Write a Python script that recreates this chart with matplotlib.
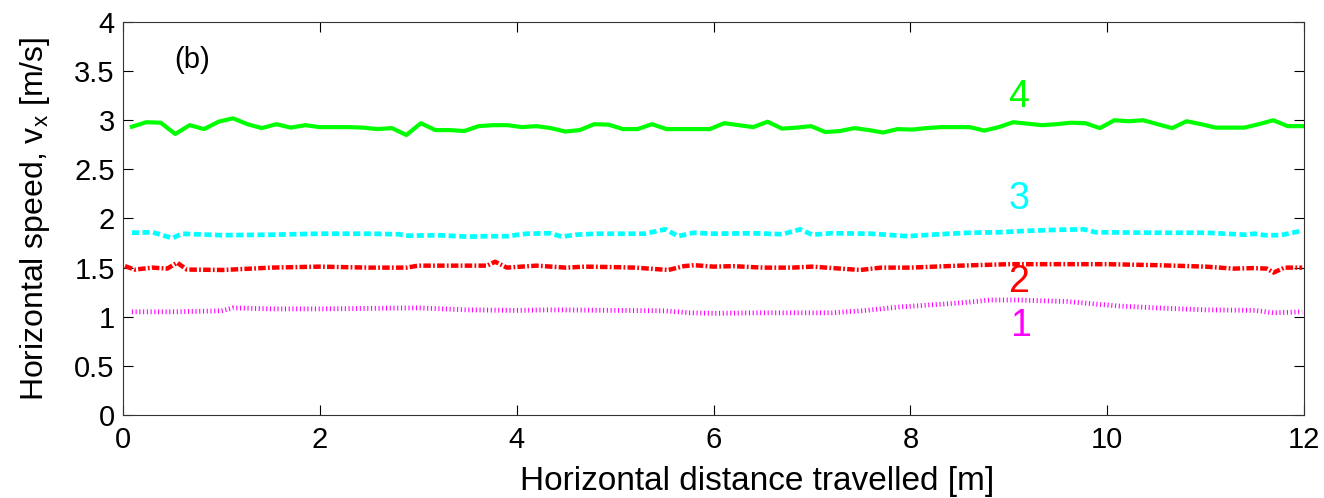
import numpy as np
import matplotlib
matplotlib.use("Agg")
import matplotlib.pyplot as plt

plt.rcParams['font.family'] = ['Liberation Sans', 'DejaVu Sans']
plt.rcParams['mathtext.default'] = 'regular'

# run 4 (green, solid)
v4 = [2.934, 2.98, 2.975, 2.86, 2.95, 2.91, 2.985, 3.02, 2.96, 2.92,
      2.96, 2.925, 2.95, 2.93, 2.93, 2.93, 2.925, 2.91, 2.92, 2.85,
      2.97, 2.90, 2.90, 2.89, 2.94, 2.95, 2.95, 2.93, 2.94, 2.92,
      2.885, 2.90, 2.96, 2.955, 2.91, 2.91, 2.96, 2.91, 2.91, 2.91,
      2.91, 2.97, 2.95, 2.93, 2.985, 2.915, 2.925, 2.94, 2.88, 2.89,
      2.92, 2.90, 2.875, 2.91, 2.905, 2.92, 2.93, 2.93, 2.93, 2.895,
      2.93, 2.98, 2.965, 2.95, 2.96, 2.975, 2.97, 2.92, 3.0, 2.99,
      3.0, 2.96, 2.92, 2.99, 2.96, 2.925, 2.925, 2.925, 2.96, 3.0,
      2.94, 2.94]
x4 = np.linspace(0.09, 11.98, len(v4))

# run 3 (cyan, dashed)
x3 = [0.09, 0.3, 0.5, 0.6, 1.0, 1.5, 2.0, 2.5, 2.8, 2.9, 3.2, 3.5, 3.7, 3.9,
      4.1, 4.34, 4.46, 4.6, 4.8, 5.0, 5.3, 5.51, 5.64, 5.8, 6.0, 6.4, 6.7,
      6.88, 7.0, 7.2, 7.6, 7.97, 8.3, 8.6, 8.9, 9.2, 9.5, 9.76, 9.88, 10.5,
      11.0, 11.4, 11.5, 11.6, 11.76, 11.98]
v3 = [1.855, 1.86, 1.80, 1.845, 1.83, 1.835, 1.845, 1.845, 1.84, 1.825,
      1.83, 1.815, 1.82, 1.82, 1.845, 1.85, 1.815, 1.835, 1.845, 1.845,
      1.845, 1.89, 1.82, 1.855, 1.845, 1.85, 1.84, 1.89, 1.835, 1.85,
      1.845, 1.82, 1.84, 1.855, 1.86, 1.875, 1.885, 1.89, 1.86, 1.855,
      1.855, 1.835, 1.845, 1.83, 1.83, 1.875]

# run 2 (red, dash-dot)
x2 = [0.02, 0.12, 0.3, 0.45, 0.55, 0.65, 1.02, 1.5, 2.0, 2.5, 2.88, 3.0,
      3.5, 3.7, 3.78, 3.9, 4.2, 4.5, 4.7, 5.0, 5.2, 5.54, 5.7, 5.8, 6.0,
      6.2, 6.5, 6.8, 7.0, 7.49, 7.7, 8.0, 8.5, 9.0, 9.5, 10.0, 10.5, 11.0,
      11.28, 11.48, 11.62, 11.69, 11.8, 11.98]
v2 = [1.515, 1.48, 1.50, 1.49, 1.55, 1.48, 1.476, 1.50, 1.51, 1.50, 1.50,
      1.52, 1.52, 1.52, 1.56, 1.50, 1.52, 1.50, 1.51, 1.505, 1.50, 1.476,
      1.515, 1.525, 1.51, 1.515, 1.50, 1.50, 1.51, 1.476, 1.50, 1.50, 1.52,
      1.535, 1.535, 1.535, 1.525, 1.51, 1.49, 1.495, 1.49, 1.45, 1.50, 1.50]

# run 1 (magenta, dotted)
x1 = [0.09, 0.5, 1.0, 1.12, 1.5, 2.0, 2.5, 3.0, 3.5, 4.0, 4.34, 5.0, 5.5,
      5.76, 6.0, 6.5, 7.0, 7.2, 7.5, 7.9, 8.5, 8.81, 9.1, 9.59, 10.1, 10.5,
      11.0, 11.5, 11.69, 11.98]
v1 = [1.05, 1.05, 1.06, 1.09, 1.08, 1.08, 1.085, 1.09, 1.07, 1.065, 1.07,
      1.065, 1.06, 1.04, 1.035, 1.04, 1.04, 1.04, 1.06, 1.10, 1.14, 1.17,
      1.17, 1.155, 1.11, 1.09, 1.07, 1.065, 1.04, 1.05]

fig = plt.figure(figsize=(13.24, 4.98), dpi=100)
ax = fig.add_axes([0.0929, 0.1667, 0.8921, 0.7891])

ax.plot(x1, v1, color='#ff00ff', lw=3.5, dashes=(0.22, 0.55), dash_capstyle='butt')
ax.plot(x2, v2, color='#ff0000', lw=3.2, dashes=(1.7, 0.5, 0.4, 0.5), dash_capstyle='butt')
ax.plot(x3, v3, color='#00ffff', lw=3.4, dashes=(1.5, 0.75), dash_capstyle='butt')
ax.plot(x4, v4, color='#00ff00', lw=3)

ax.text(9.1, 3.24, '4', color='#00ff00', fontsize=27, ha='center', va='center')
ax.text(9.1, 2.20, '3', color='#00ffff', fontsize=27, ha='center', va='center')
ax.text(9.1, 1.35, '2', color='#ff0000', fontsize=27, ha='center', va='center')
ax.text(9.12, 0.905, '1', color='#ff00ff', fontsize=27, ha='center', va='center')
ax.text(0.70, 3.61, '(b)', fontsize=21, ha='center', va='center')

ax.set_xlim(0, 12)
ax.set_ylim(0, 4)
ax.set_xticks(np.arange(0, 13, 2))
ax.set_yticks(np.arange(0, 4.01, 0.5))
ax.set_yticklabels(['0', '0.5', '1', '1.5', '2', '2.5', '3', '3.5', '4'])
ax.tick_params(direction='in', top=True, right=True, length=7, labelsize=21)
ax.tick_params(axis='x', pad=8)
ax.tick_params(axis='y', pad=6)
for s in ax.spines.values():
    s.set_color('#333333')

ax.set_xlabel('Horizontal distance travelled [m]', fontsize=24)
ax.xaxis.set_label_coords(0.537, -0.13)
ax.set_ylabel('Horizontal speed, v$_{x}$ [m/s]', fontsize=23)
ax.yaxis.set_label_coords(-0.06, 0.5)

fig.savefig('out.png', dpi=100)
